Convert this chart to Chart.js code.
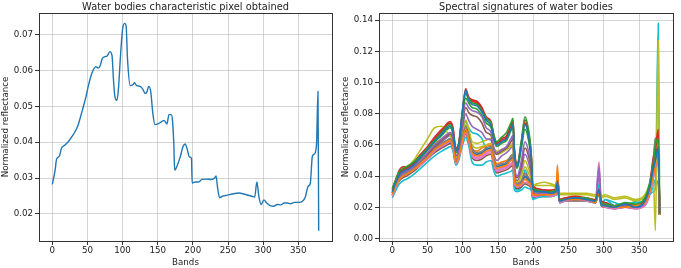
<!DOCTYPE html>
<html>
<head>
<meta charset="utf-8">
<script src="https://cdn.jsdelivr.net/npm/chart.js@4"></script>
<style>
  html, body { margin: 0; padding: 0; background: #fff; }
  #wrap { position: relative; width: 681px; height: 268px; }
  #left { position: absolute; left: 0; top: 0; }
  #right { position: absolute; left: 340px; top: 0; }
</style>
</head>
<body>
<div id="wrap">
  <canvas id="left" width="340" height="268"></canvas>
  <canvas id="right" width="341" height="268"></canvas>
</div>
<script>
// --- data: characteristic pixel (left panel) ---
const pixelBands = [0, 4, 6, 10, 13, 18, 23, 28, 31, 36, 39, 43, 48, 51, 55, 58, 62, 65, 68, 71, 75, 78, 82, 85, 87, 89, 92, 94, 97, 100, 103, 105, 107, 111, 115, 117, 120, 125, 129, 132, 135, 137, 140, 143, 146, 150, 156, 159, 163, 166, 169, 171, 173, 174, 176, 182, 186, 189, 192, 195, 198, 199, 204, 208, 213, 220, 226, 231, 233, 235, 238, 242, 249, 258, 265, 275, 284, 288, 291, 294, 297, 301, 305, 310, 315, 320, 325, 330, 334, 339, 344, 351, 356, 360, 364, 367, 370, 373, 376, 378, 379];
const pixelValues = [0.0282, 0.0322, 0.0352, 0.0361, 0.0383, 0.0392, 0.0402, 0.0416, 0.0425, 0.0444, 0.0463, 0.0491, 0.0528, 0.0555, 0.0585, 0.0601, 0.0611, 0.0607, 0.0613, 0.0633, 0.0639, 0.0641, 0.0653, 0.0641, 0.0575, 0.0528, 0.0517, 0.0547, 0.0641, 0.0716, 0.0732, 0.0725, 0.0632, 0.0558, 0.0561, 0.0566, 0.0558, 0.0556, 0.0547, 0.0536, 0.0542, 0.0556, 0.0542, 0.0481, 0.0449, 0.0451, 0.0458, 0.0461, 0.0451, 0.0477, 0.0477, 0.0461, 0.0388, 0.0322, 0.0327, 0.0359, 0.0388, 0.0395, 0.0380, 0.0359, 0.0355, 0.0286, 0.0289, 0.0289, 0.0296, 0.0297, 0.0296, 0.0300, 0.0306, 0.0275, 0.0245, 0.0249, 0.0252, 0.0256, 0.0258, 0.0254, 0.0249, 0.0247, 0.0289, 0.0247, 0.0226, 0.0239, 0.0230, 0.0223, 0.0221, 0.0226, 0.0225, 0.0230, 0.0230, 0.0228, 0.0232, 0.0232, 0.0235, 0.0247, 0.0277, 0.0284, 0.0361, 0.0367, 0.0397, 0.0542, 0.0153];

// --- data: spectral signatures (right panel), one array per pixel ---
const bands = [0, 5, 10, 15, 20, 30, 40, 50, 60, 70, 78, 82, 86, 90, 94, 99, 104, 108, 113, 120, 127, 133, 140, 144, 148, 155, 162, 168, 171, 173, 177, 183, 188, 193, 197, 199, 205, 215, 225, 232, 234, 237, 245, 260, 275, 288, 293, 296, 302, 315, 330, 345, 358, 365, 370, 373, 377, 379];
const sig00 = [0.030,0.036,0.041,0.043,0.044,0.047,0.052,0.057,0.062,0.067,0.071,0.072,0.068,0.056,0.059,0.081,0.095,0.089,0.086,0.085,0.081,0.076,0.072,0.064,0.060,0.062,0.064,0.070,0.073,0.055,0.046,0.060,0.073,0.066,0.051,0.032,0.030,0.030,0.029,0.030,0.037,0.024,0.025,0.026,0.025,0.024,0.031,0.022,0.021,0.020,0.022,0.020,0.024,0.033,0.045,0.050,0.058,0.016];
const sig01 = [0.028,0.034,0.038,0.040,0.041,0.044,0.048,0.052,0.057,0.060,0.062,0.063,0.059,0.049,0.052,0.062,0.070,0.064,0.055,0.053,0.054,0.056,0.057,0.049,0.045,0.046,0.047,0.050,0.051,0.037,0.034,0.035,0.038,0.036,0.034,0.028,0.028,0.028,0.028,0.029,0.047,0.024,0.025,0.025,0.025,0.023,0.029,0.022,0.021,0.020,0.020,0.021,0.023,0.030,0.040,0.046,0.050,0.015];
const sig02 = [0.032,0.038,0.043,0.045,0.046,0.049,0.053,0.058,0.063,0.068,0.072,0.073,0.069,0.057,0.060,0.079,0.093,0.090,0.087,0.086,0.082,0.077,0.074,0.066,0.062,0.065,0.068,0.074,0.077,0.057,0.047,0.063,0.078,0.070,0.054,0.033,0.031,0.030,0.030,0.031,0.038,0.025,0.025,0.026,0.026,0.024,0.030,0.023,0.022,0.021,0.023,0.022,0.026,0.036,0.048,0.060,0.064,0.015];
const sig03 = [0.031,0.037,0.042,0.044,0.045,0.048,0.053,0.058,0.064,0.069,0.074,0.075,0.071,0.058,0.061,0.080,0.096,0.091,0.089,0.088,0.084,0.078,0.075,0.066,0.061,0.064,0.066,0.073,0.076,0.058,0.048,0.062,0.076,0.068,0.052,0.034,0.032,0.031,0.031,0.032,0.040,0.025,0.026,0.027,0.026,0.025,0.031,0.024,0.023,0.021,0.022,0.021,0.025,0.034,0.050,0.056,0.070,0.016];
const sig04 = [0.030,0.036,0.040,0.042,0.043,0.046,0.050,0.055,0.060,0.064,0.067,0.068,0.065,0.053,0.056,0.074,0.087,0.084,0.082,0.081,0.078,0.071,0.068,0.058,0.055,0.057,0.059,0.064,0.066,0.048,0.040,0.050,0.062,0.056,0.045,0.030,0.029,0.029,0.029,0.030,0.037,0.024,0.025,0.026,0.025,0.024,0.046,0.025,0.022,0.021,0.021,0.020,0.023,0.031,0.044,0.052,0.055,0.015];
const sig05 = [0.029,0.035,0.040,0.042,0.043,0.046,0.050,0.054,0.059,0.063,0.066,0.067,0.064,0.053,0.056,0.072,0.084,0.081,0.079,0.078,0.074,0.068,0.066,0.057,0.054,0.056,0.058,0.062,0.064,0.046,0.039,0.047,0.058,0.053,0.043,0.029,0.028,0.028,0.029,0.029,0.035,0.024,0.025,0.025,0.025,0.023,0.031,0.023,0.022,0.020,0.021,0.020,0.024,0.032,0.046,0.054,0.058,0.015];
const sig06 = [0.027,0.033,0.038,0.040,0.041,0.044,0.047,0.051,0.056,0.059,0.061,0.062,0.058,0.048,0.051,0.061,0.068,0.063,0.053,0.051,0.052,0.054,0.055,0.047,0.043,0.044,0.045,0.047,0.048,0.035,0.033,0.034,0.036,0.035,0.033,0.027,0.027,0.028,0.027,0.028,0.035,0.023,0.024,0.025,0.024,0.023,0.049,0.024,0.020,0.019,0.020,0.019,0.021,0.029,0.038,0.045,0.048,0.015];
const sig07 = [0.029,0.035,0.039,0.041,0.042,0.045,0.049,0.053,0.058,0.061,0.063,0.064,0.060,0.050,0.053,0.064,0.072,0.067,0.058,0.055,0.056,0.058,0.059,0.051,0.047,0.048,0.049,0.053,0.054,0.039,0.035,0.037,0.042,0.039,0.036,0.029,0.028,0.029,0.029,0.029,0.036,0.024,0.025,0.026,0.025,0.024,0.032,0.023,0.022,0.021,0.022,0.021,0.024,0.033,0.050,0.064,0.065,0.016];
const sig08 = [0.030,0.036,0.040,0.043,0.045,0.050,0.057,0.064,0.071,0.072,0.068,0.066,0.062,0.052,0.055,0.066,0.073,0.068,0.060,0.058,0.059,0.060,0.061,0.056,0.054,0.055,0.057,0.059,0.060,0.041,0.036,0.040,0.046,0.042,0.038,0.034,0.035,0.036,0.035,0.034,0.038,0.029,0.029,0.029,0.029,0.028,0.030,0.027,0.028,0.026,0.027,0.025,0.028,0.035,0.040,0.005,0.127,0.015];
const sig09 = [0.026,0.031,0.035,0.037,0.038,0.041,0.045,0.049,0.053,0.056,0.058,0.059,0.056,0.047,0.050,0.059,0.065,0.060,0.049,0.047,0.047,0.049,0.050,0.043,0.040,0.041,0.042,0.043,0.044,0.031,0.030,0.031,0.033,0.032,0.031,0.025,0.026,0.027,0.027,0.028,0.043,0.023,0.024,0.025,0.024,0.023,0.035,0.021,0.025,0.021,0.022,0.023,0.024,0.028,0.030,0.032,0.138,0.015];
const sig10 = [0.028,0.034,0.038,0.040,0.041,0.044,0.048,0.052,0.056,0.059,0.061,0.062,0.058,0.049,0.052,0.063,0.069,0.065,0.056,0.054,0.055,0.057,0.058,0.050,0.046,0.047,0.048,0.051,0.052,0.038,0.034,0.036,0.040,0.038,0.035,0.028,0.028,0.029,0.028,0.029,0.036,0.024,0.025,0.025,0.025,0.024,0.030,0.023,0.021,0.020,0.021,0.020,0.023,0.031,0.043,0.050,0.055,0.015];
const sig11 = [0.029,0.035,0.039,0.041,0.042,0.045,0.049,0.053,0.057,0.060,0.062,0.063,0.059,0.049,0.052,0.064,0.071,0.066,0.058,0.056,0.058,0.059,0.060,0.052,0.048,0.049,0.050,0.052,0.053,0.038,0.035,0.037,0.041,0.039,0.036,0.029,0.029,0.029,0.029,0.030,0.041,0.025,0.025,0.026,0.026,0.024,0.031,0.022,0.022,0.020,0.022,0.021,0.022,0.030,0.044,0.053,0.058,0.016];
const sig12 = [0.031,0.037,0.042,0.044,0.045,0.048,0.052,0.057,0.062,0.066,0.070,0.071,0.067,0.055,0.058,0.077,0.090,0.087,0.084,0.083,0.079,0.074,0.071,0.063,0.059,0.061,0.063,0.069,0.072,0.053,0.045,0.058,0.070,0.063,0.049,0.031,0.030,0.029,0.029,0.030,0.036,0.024,0.025,0.025,0.025,0.023,0.029,0.022,0.021,0.020,0.021,0.021,0.023,0.032,0.046,0.064,0.062,0.015];
const sig13 = [0.032,0.038,0.044,0.046,0.046,0.049,0.054,0.059,0.065,0.070,0.073,0.074,0.070,0.057,0.060,0.079,0.093,0.090,0.088,0.087,0.083,0.077,0.074,0.065,0.061,0.063,0.065,0.072,0.075,0.056,0.047,0.061,0.074,0.067,0.053,0.034,0.031,0.031,0.030,0.031,0.039,0.025,0.025,0.026,0.026,0.024,0.030,0.022,0.022,0.021,0.022,0.021,0.024,0.035,0.052,0.057,0.066,0.016];
const sig14 = [0.028,0.034,0.039,0.041,0.042,0.045,0.049,0.053,0.058,0.062,0.065,0.066,0.062,0.051,0.054,0.069,0.080,0.076,0.072,0.070,0.068,0.064,0.063,0.054,0.050,0.053,0.055,0.058,0.060,0.043,0.037,0.044,0.054,0.049,0.040,0.029,0.028,0.028,0.028,0.029,0.034,0.024,0.024,0.025,0.025,0.023,0.040,0.023,0.021,0.020,0.021,0.020,0.022,0.030,0.042,0.048,0.052,0.015];
const sig15 = [0.027,0.033,0.037,0.039,0.040,0.043,0.047,0.051,0.055,0.058,0.060,0.061,0.057,0.048,0.051,0.061,0.067,0.062,0.052,0.050,0.051,0.053,0.054,0.046,0.042,0.043,0.044,0.046,0.047,0.034,0.032,0.033,0.035,0.034,0.032,0.026,0.027,0.027,0.027,0.028,0.034,0.023,0.024,0.024,0.024,0.023,0.029,0.021,0.020,0.019,0.020,0.019,0.022,0.029,0.041,0.047,0.053,0.015];
const sig16 = [0.028,0.034,0.038,0.040,0.041,0.044,0.048,0.052,0.056,0.059,0.061,0.062,0.058,0.049,0.052,0.062,0.069,0.064,0.054,0.052,0.053,0.055,0.056,0.048,0.044,0.045,0.046,0.048,0.049,0.036,0.033,0.035,0.038,0.036,0.034,0.027,0.028,0.028,0.028,0.028,0.035,0.024,0.024,0.025,0.025,0.023,0.044,0.022,0.021,0.019,0.020,0.020,0.021,0.028,0.039,0.046,0.050,0.015];
const sig17 = [0.029,0.035,0.039,0.041,0.042,0.045,0.049,0.053,0.057,0.060,0.062,0.063,0.059,0.050,0.053,0.063,0.070,0.065,0.056,0.054,0.055,0.057,0.058,0.050,0.046,0.047,0.048,0.050,0.051,0.037,0.034,0.036,0.039,0.037,0.035,0.028,0.028,0.028,0.028,0.029,0.037,0.024,0.025,0.025,0.025,0.024,0.031,0.023,0.022,0.020,0.021,0.020,0.023,0.031,0.045,0.058,0.062,0.016];
const sig18 = [0.030,0.036,0.041,0.043,0.044,0.047,0.051,0.056,0.061,0.064,0.066,0.066,0.062,0.052,0.055,0.068,0.076,0.071,0.062,0.061,0.062,0.063,0.064,0.058,0.056,0.057,0.058,0.060,0.061,0.043,0.037,0.041,0.050,0.045,0.039,0.033,0.034,0.034,0.034,0.033,0.037,0.028,0.028,0.028,0.028,0.027,0.029,0.026,0.027,0.025,0.026,0.024,0.027,0.033,0.042,0.052,0.060,0.015];
const sig19 = [0.029,0.035,0.039,0.041,0.042,0.045,0.049,0.053,0.058,0.061,0.063,0.064,0.060,0.050,0.053,0.066,0.075,0.071,0.068,0.067,0.064,0.058,0.057,0.048,0.044,0.045,0.046,0.047,0.048,0.034,0.031,0.033,0.044,0.038,0.033,0.026,0.027,0.027,0.027,0.028,0.042,0.023,0.024,0.025,0.024,0.023,0.033,0.022,0.025,0.023,0.021,0.024,0.026,0.029,0.033,0.038,0.034,0.015];
const signatures = [sig00, sig01, sig02, sig03, sig04, sig05, sig06, sig07, sig08, sig09,
                    sig10, sig11, sig12, sig13, sig14, sig15, sig16, sig17, sig18, sig19];

// --- tick labels ---
const bandTicks = [0, 50, 100, 150, 200, 250, 300, 350];
const pixelTicks = [0.02, 0.03, 0.04, 0.05, 0.06, 0.07];
const signatureTicks = [0.00, 0.02, 0.04, 0.06, 0.08, 0.10, 0.12, 0.14];

const tab10 = ['#1f77b4', '#ff7f0e', '#2ca02c', '#d62728', '#9467bd',
               '#8c564b', '#e377c2', '#7f7f7f', '#bcbd22', '#17becf'];

const FONT = 'DejaVu Sans';
const TXT = '#222';

// matplotlib-style 5% margins
function margins(values) {
    const lo = Math.min(...values), hi = Math.max(...values);
    const pad = (hi - lo) * 0.05;
    return [lo - pad, hi + pad];
}

// axes box on all four sides
const frame = {
    id: 'frame',
    afterDraw(chart) {
        const { ctx, chartArea: a } = chart;
        ctx.save();
        ctx.strokeStyle = '#333';
        ctx.lineWidth = 1;
        ctx.strokeRect(Math.round(a.left) + 0.5, Math.round(a.top) + 0.5,
                       Math.round(a.right - a.left), Math.round(a.bottom - a.top));
        ctx.restore();
    }
};

function buildOptions(title, yTicks, yRange) {
    const [xMin, xMax] = margins(bands.concat(pixelBands));
    const tickFont = { family: FONT, size: 8.7 };
    const grid = { color: 'rgba(176,176,176,0.55)', lineWidth: 1, tickLength: 4, tickColor: '#333' };
    return {
        responsive: false,
        animation: false,
        devicePixelRatio: 1,
        layout: { padding: { left: 0, right: 8, top: 1.2, bottom: 0 } },
        plugins: {
            legend: { display: false },
            tooltip: { enabled: false },
            title: {
                display: true, text: title, fullSize: false, color: TXT,
                font: { family: FONT, size: 9.8, weight: 'normal' },
                padding: { top: 0, bottom: 0 }
            }
        },
        scales: {
            x: {
                type: 'linear', min: xMin, max: xMax,
                afterBuildTicks: s => { s.ticks = bandTicks.map(v => ({ value: v })); },
                afterFit: s => { s.height = 27; },
                grid: grid,
                border: { display: false },
                ticks: { color: TXT, font: tickFont, padding: 1, maxRotation: 0 },
                title: { display: true, text: 'Bands', color: TXT, font: tickFont, padding: 0 }
            },
            y: {
                type: 'linear', min: yRange[0], max: yRange[1],
                afterBuildTicks: s => { s.ticks = yTicks.map(v => ({ value: v })); },
                afterFit: s => { s.width = 39; },
                grid: grid,
                border: { display: false },
                ticks: { color: TXT, font: tickFont, padding: 2, callback: v => v.toFixed(2) },
                title: { display: true, text: 'Normalized reflectance', color: TXT, font: tickFont, padding: 1 }
            }
        }
    };
}

// --- Left: characteristic pixel ---
new Chart(document.getElementById('left').getContext('2d'), {
    type: 'line',
    data: {
        datasets: [{
            data: pixelBands.map((b, i) => ({ x: b, y: pixelValues[i] })),
            borderColor: tab10[0],
            borderWidth: 1.4,
            pointRadius: 0,
            cubicInterpolationMode: 'monotone'
        }]
    },
    options: buildOptions('Water bodies characteristic pixel obtained', pixelTicks, margins(pixelValues)),
    plugins: [frame]
});

// --- Right: all spectral signatures ---
new Chart(document.getElementById('right').getContext('2d'), {
    type: 'line',
    data: {
        datasets: signatures.map((sig, k) => ({
            data: bands.map((b, i) => ({ x: b, y: sig[i] })),
            borderColor: tab10[k % 10],
            borderWidth: 1.6,
            pointRadius: 0,
            cubicInterpolationMode: 'monotone'
        }))
    },
    options: buildOptions('Spectral signatures of water bodies', signatureTicks, margins(signatures.flat())),
    plugins: [frame]
});
</script>
</body>
</html>
